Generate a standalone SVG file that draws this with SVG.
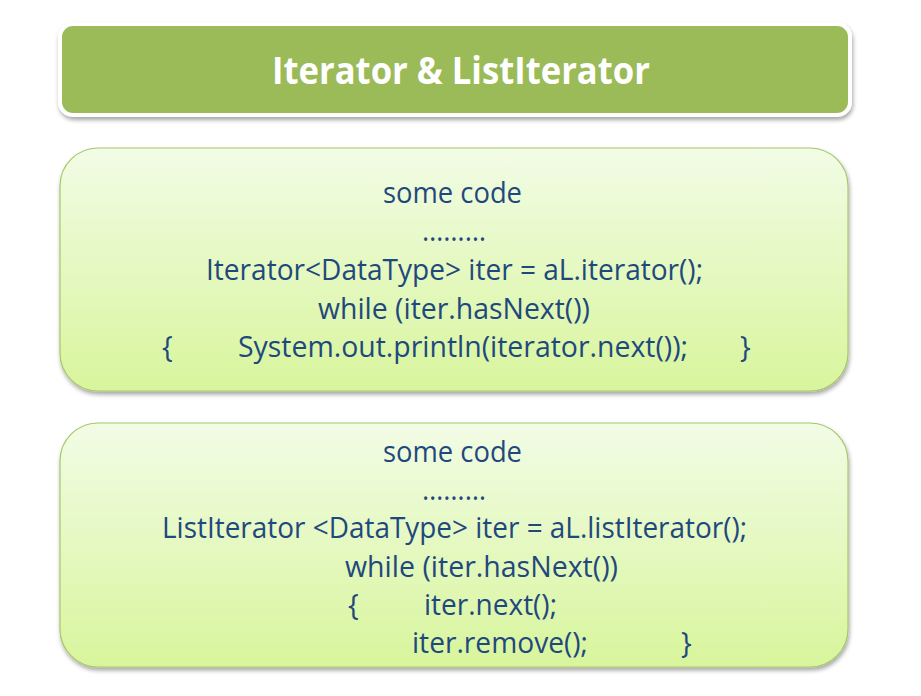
<svg xmlns="http://www.w3.org/2000/svg" width="921" height="696" viewBox="0 0 921 696">
<defs>
<linearGradient id="boxGrad" x1="0" y1="0" x2="0" y2="1">
<stop offset="0" stop-color="#F2FCE6"/>
<stop offset="1" stop-color="#D8F59C"/>
</linearGradient>
<filter id="shadow" x="-5%" y="-10%" width="110%" height="125%">
<feDropShadow dx="1" dy="3" stdDeviation="2" flood-color="#000" flood-opacity="0.35"/>
</filter>
</defs>
<style>
.code{font-family:"Open Sans","Noto Sans","Liberation Sans",sans-serif;font-size:28.5px;fill:#1F497D;}
.title{font-family:"Open Sans","Noto Sans","Liberation Sans",sans-serif;font-size:38px;font-weight:bold;fill:#FFFFFF;}
.box{fill:url(#boxGrad);stroke:#A6C867;stroke-width:1.2;filter:url(#shadow);}
</style>
<rect width="921" height="696" fill="#FFFFFF"/>
<g id="title">
<rect x="60" y="24" width="790" height="91" rx="13" fill="#9BBB59" stroke="#FFFFFF" stroke-width="4" filter="url(#shadow)"/>
<text class="title" x="272" y="84" textLength="378" lengthAdjust="spacingAndGlyphs">Iterator &amp; ListIterator</text>
</g>
<g id="iterator-box">
<rect class="box" x="60" y="148" width="788" height="243" rx="38"/>
<text class="code" x="383" y="203" textLength="139" lengthAdjust="spacingAndGlyphs">some code</text>
<text class="code" x="422" y="241" textLength="64" lengthAdjust="spacingAndGlyphs">………</text>
<text class="code" x="206" y="280" textLength="497" lengthAdjust="spacingAndGlyphs">Iterator&lt;DataType&gt; iter = aL.iterator();</text>
<text class="code" x="318" y="318.5" textLength="272" lengthAdjust="spacingAndGlyphs">while (iter.hasNext())</text>
<text class="code" x="162" y="357">{</text>
<text class="code" x="238" y="357" textLength="450" lengthAdjust="spacingAndGlyphs">System.out.println(iterator.next());</text>
<text class="code" x="740" y="357">}</text>
</g>
<g id="listiterator-box">
<rect class="box" x="60" y="423" width="788" height="244" rx="38"/>
<text class="code" x="383" y="461.5" textLength="139" lengthAdjust="spacingAndGlyphs">some code</text>
<text class="code" x="422" y="500" textLength="64" lengthAdjust="spacingAndGlyphs">………</text>
<text class="code" x="162" y="538" textLength="585" lengthAdjust="spacingAndGlyphs">ListIterator &lt;DataType&gt; iter = aL.listIterator();</text>
<text class="code" x="345" y="576.5" textLength="273" lengthAdjust="spacingAndGlyphs">while (iter.hasNext())</text>
<text class="code" x="348" y="615">{</text>
<text class="code" x="424" y="615" textLength="133" lengthAdjust="spacingAndGlyphs">iter.next();</text>
<text class="code" x="412" y="653" textLength="176" lengthAdjust="spacingAndGlyphs">iter.remove();</text>
<text class="code" x="681" y="653">}</text>
</g>
<g id="connectors"></g>
</svg>
